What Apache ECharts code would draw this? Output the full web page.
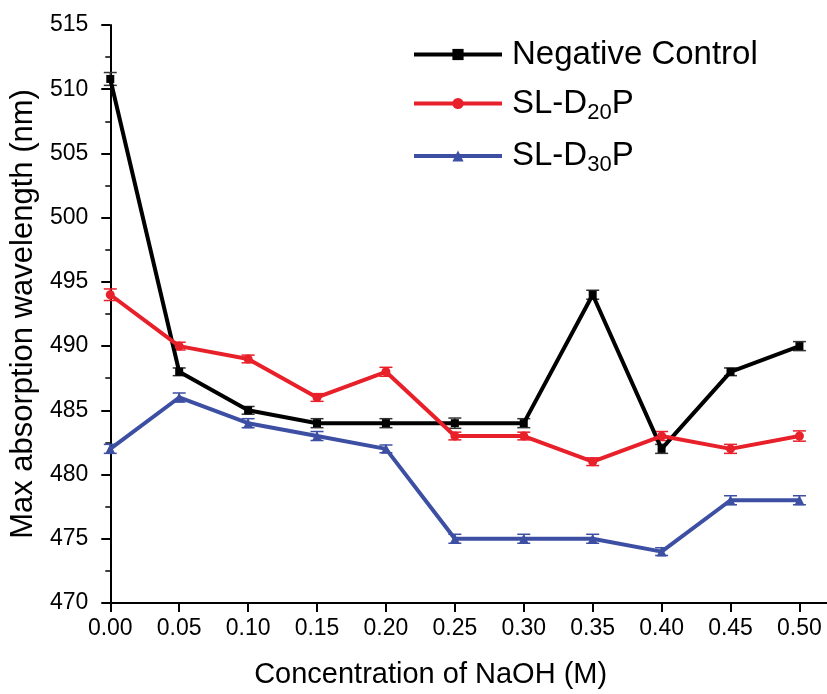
<!DOCTYPE html>
<html><head><meta charset="utf-8">
<script src="https://cdn.jsdelivr.net/npm/echarts@6/dist/echarts.min.js"></script>
<style>html,body{margin:0;padding:0;background:#fff}#c{width:827px;height:694px}</style>
</head><body><div id="c"></div>
<script>
var concentrations = [0.00, 0.05, 0.10, 0.15, 0.20, 0.25, 0.30, 0.35, 0.40, 0.45, 0.50];
var negativeControl = [510.8, 488, 485, 484, 484, 484, 484, 494, 482, 488, 490];
var negativeErr = [0.5, 0.3, 0.3, 0.35, 0.35, 0.4, 0.35, 0.35, 0.35, 0.3, 0.35];
var slD20P = [494, 490, 489, 486, 488, 483, 483, 481, 483, 482, 483];
var slD20Err = [0.45, 0.3, 0.3, 0.3, 0.35, 0.3, 0.3, 0.3, 0.35, 0.35, 0.4];
var slD30P = [482, 486, 484, 483, 482, 475, 475, 475, 474, 478, 478];
var slD30Err = [0.35, 0.35, 0.35, 0.35, 0.3, 0.35, 0.35, 0.35, 0.3, 0.35, 0.35];
var yTicks = {min: 470, max: 515, interval: 5};

var FONT = '"Liberation Sans", Arial, sans-serif';
var chart = echarts.init(document.getElementById('c'));

function pairs(vals) { return concentrations.map(function (x, i) { return [x, vals[i]]; }); }
function errData(vals, errs) { return concentrations.map(function (x, i) { return [x, vals[i] - errs[i], vals[i] + errs[i]]; }); }

function errSeries(name, vals, errs, color) {
  return {
    type: 'custom', name: name + ' err', silent: true, z: 1,
    data: errData(vals, errs),
    renderItem: function (params, api) {
      var lo = api.coord([api.value(0), api.value(1)]);
      var hi = api.coord([api.value(0), api.value(2)]);
      var w = 6.5;
      var st = {stroke: color, lineWidth: 1.5};
      return {type: 'group', children: [
        {type: 'line', shape: {x1: lo[0], y1: lo[1], x2: hi[0], y2: hi[1]}, style: st},
        {type: 'line', shape: {x1: lo[0] - w, y1: lo[1], x2: lo[0] + w, y2: lo[1]}, style: st},
        {type: 'line', shape: {x1: hi[0] - w, y1: hi[1], x2: hi[0] + w, y2: hi[1]}, style: st}
      ]};
    }
  };
}

function lineSeries(name, vals, color, symbol, size) {
  return {
    type: 'line', name: name, data: pairs(vals), z: 3,
    symbol: symbol, symbolSize: size,
    lineStyle: {color: color, width: 4},
    itemStyle: {color: color},
    emphasis: {disabled: true}
  };
}

var cBlack = '#000000', cRed = '#e8202a', cBlue = '#3d4fa3';

chart.setOption({
  animation: false,
  backgroundColor: '#fff',
  grid: {left: 108, right: 0, top: 25, bottom: 90, containLabel: false},
  legend: {
    orient: 'vertical', left: 407, top: 33,
    itemWidth: 88, itemHeight: 14, itemGap: 16,
    lineStyle: {width: 4},
    data: ['Negative Control', 'SL-D20P', 'SL-D30P'],
    formatter: function (n) {
      if (n === 'SL-D20P') return 'SL-D{sub|20}P';
      if (n === 'SL-D30P') return 'SL-D{sub|30}P';
      return n;
    },
    textStyle: {fontSize: 33, color: '#000', fontFamily: FONT, padding: [0, 0, 0, 5],
      rich: {sub: {fontSize: 22, fontFamily: FONT, color: '#000', padding: [18, 0, 0, 0]}}}
  },
  xAxis: {
    type: 'value', min: 0, max: 0.52, interval: 0.05,
    name: 'Concentration of NaOH (M)', nameLocation: 'middle', nameGap: 57,
    nameTextStyle: {fontSize: 29, color: '#000', fontFamily: FONT, padding: [0, 76, 0, 0]},
    axisLine: {lineStyle: {color: '#000', width: 2}},
    axisTick: {lineStyle: {color: '#000', width: 2}, length: 9},
    axisLabel: {fontSize: 23, color: '#000', fontFamily: FONT, margin: 14, showMaxLabel: false,
      formatter: function (v) { return v.toFixed(2); }},
    splitLine: {show: false}
  },
  yAxis: {
    type: 'value', min: yTicks.min, max: yTicks.max, interval: yTicks.interval,
    name: 'Max absorption wavelength (nm)', nameLocation: 'middle', nameGap: 62,
    nameTextStyle: {fontSize: 31, color: '#000', fontFamily: FONT},
    axisLine: {show: true, lineStyle: {color: '#000', width: 2}},
    axisTick: {show: true, lineStyle: {color: '#000', width: 2}, length: 9},
    minorTick: {show: true, splitNumber: 2, length: 5, lineStyle: {color: '#000', width: 1.5}},
    axisLabel: {fontSize: 23, color: '#000', fontFamily: FONT, margin: 22},
    splitLine: {show: false}
  },
  series: [
    errSeries('Negative Control', negativeControl, negativeErr, '#333'),
    errSeries('SL-D20P', slD20P, slD20Err, cRed),
    errSeries('SL-D30P', slD30P, slD30Err, cBlue),
    lineSeries('Negative Control', negativeControl, cBlack, 'rect', 8),
    lineSeries('SL-D20P', slD20P, cRed, 'circle', 9),
    lineSeries('SL-D30P', slD30P, cBlue, 'triangle', 10)
  ]
});
</script></body></html>
